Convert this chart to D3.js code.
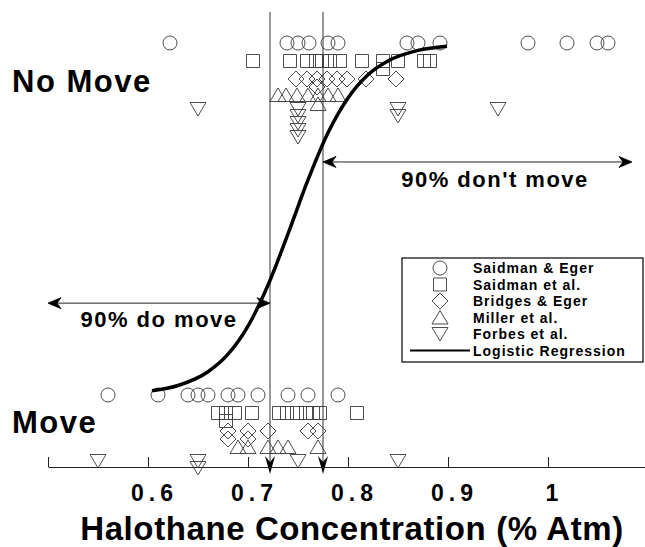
<!DOCTYPE html>
<html>
<head>
<meta charset="utf-8">
<script src="https://cdn.jsdelivr.net/npm/d3@7"></script>
<style>
  body { margin: 0; background: #fff; }
  svg { display: block; font-family: "Liberation Sans", Arial, Helvetica, sans-serif; }
</style>
</head>
<body>
<div id="chart"></div>
<script>
// halothane dose/response
var seriesNames = ["Saidman & Eger", "Saidman et al.", "Bridges & Eger", "Miller et al.", "Forbes et al."];

var saidmanEgerNoMove = [0.622, 0.739, 0.75, 0.761, 0.78, 0.79, 0.859, 0.87, 0.892, 0.98, 1.019, 1.049, 1.06];
var saidmanEgerMove   = [0.56, 0.61, 0.64, 0.65, 0.66, 0.68, 0.69, 0.71, 0.74, 0.76, 0.79];
var saidmanEtAlNoMove = [0.705, 0.742, 0.759, 0.768, 0.774, 0.782, 0.792, 0.814, 0.835, 0.835, 0.85, 0.876, 0.882];
var saidmanEtAlMove   = [0.67, 0.678, 0.678, 0.687, 0.704, 0.731, 0.739, 0.749, 0.758, 0.765, 0.772, 0.809];
var bridgesNoMove     = [0.748, 0.759, 0.769, 0.769, 0.779, 0.789, 0.799, 0.818, 0.848];
var bridgesMove       = [0.68, 0.68, 0.70, 0.70, 0.72, 0.76, 0.77];
var millerNoMove      = [0.73, 0.738, 0.749, 0.76, 0.77, 0.77, 0.78, 0.79];
var millerMove        = [0.69, 0.70, 0.72, 0.73, 0.74, 0.77];
var forbesNoMove      = [0.65, 0.75, 0.75, 0.75, 0.75, 0.75, 0.85, 0.85, 0.95];
var forbesMove        = [0.55, 0.65, 0.65, 0.75, 0.85];

// logistic regression curve
var curveConc = [0.604, 0.63, 0.66, 0.68, 0.70, 0.72, 0.74, 0.76, 0.78, 0.80, 0.82, 0.84, 0.87, 0.899];
var curveProb = [0.012, 0.027, 0.066, 0.116, 0.196, 0.312, 0.458, 0.611, 0.745, 0.844, 0.910, 0.949, 0.979, 0.991];

var thresholdConc = [0.722, 0.775]; // 10% / 90% lines
var tickValues = [0.5, 0.6, 0.7, 0.8, 0.9, 1.0];

var w = 645, h = 547;
var svg = d3.select("#chart").append("svg")
  .attr("width", w).attr("height", h);
svg.append("rect").attr("width", w).attr("height", h).attr("fill", "#fff");

var x = d3.scaleLinear().domain([0.5, 1.1]).range([48, 648]);
var y = d3.scaleLinear().domain([0, 1]).range([395, 43]);
var axisY = 467;

// symbol paths
function circle(r) { return "M" + (-r) + ",0A" + r + "," + r + " 0 1,0 " + r + ",0A" + r + "," + r + " 0 1,0 " + (-r) + ",0Z"; }
var shapes = [
  circle(7),
  "M-6.5,-6.5H6.5V6.5H-6.5Z",
  "M0,-8L8,0L0,8L-8,0Z",
  "M0,-7L8,6.5H-8Z",
  "M0,7L8,-6.5H-8Z"
];
var rowOffset = [0, 18, 36, 52, 66];
var stackStep = [8, 8, 8, 9, 7];

var noMove = [saidmanEgerNoMove, saidmanEtAlNoMove, bridgesNoMove, millerNoMove, forbesNoMove];
var move = [saidmanEgerMove, saidmanEtAlMove, bridgesMove, millerMove, forbesMove];

function plotRow(vals, si, p) {
  var seen = {};
  vals.forEach(function(v) {
    var k = v.toFixed(3);
    var n = seen[k] || 0;
    seen[k] = n + 1;
    svg.append("path")
      .attr("d", shapes[si])
      .attr("transform", "translate(" + x(v) + "," + (y(p) + rowOffset[si] + n * stackStep[si]) + ")")
      .attr("fill", "none")
      .attr("stroke", "#3a3a3a")
      .attr("stroke-width", 0.9);
  });
}
noMove.forEach(function(vals, i) { plotRow(vals, i, 1); });
move.forEach(function(vals, i) { plotRow(vals, i, 0); });

// vertical threshold lines with arrows down to the axis
thresholdConc.forEach(function(c) {
  var xx = x(c);
  svg.append("line").attr("x1", xx).attr("x2", xx).attr("y1", 12).attr("y2", axisY - 4)
    .attr("stroke", "#333").attr("stroke-width", 1);
  var tip = axisY + 7;
  svg.append("path")
    .attr("d", "M" + xx + "," + tip + "L" + (xx - 5) + "," + (tip - 18) + "L" + xx + "," + (tip - 12) + "L" + (xx + 5) + "," + (tip - 18) + "Z")
    .attr("fill", "#000");
});

// horizontal double arrows
function head(xt, yy, dir) {
  // dir -1 points left, +1 points right
  var b = xt - dir * 13;
  return "M" + xt + "," + yy + "L" + b + "," + (yy - 5.5) + "L" + (xt - dir * 9) + "," + yy + "L" + b + "," + (yy + 5.5) + "Z";
}
function dblArrow(x0, x1, yy) {
  svg.append("line").attr("x1", x0 + 4).attr("x2", x1 - 4).attr("y1", yy).attr("y2", yy)
    .attr("stroke", "#222").attr("stroke-width", 1);
  svg.append("path").attr("d", head(x0, yy, -1)).attr("fill", "#000")
    .attr("stroke", "#000").attr("stroke-width", 0.8).attr("stroke-linejoin", "miter");
  svg.append("path").attr("d", head(x1, yy, 1)).attr("fill", "#000")
    .attr("stroke", "#000").attr("stroke-width", 0.8).attr("stroke-linejoin", "miter");
}
var doY = y(0.261), dontY = y(0.662);
dblArrow(x(0.5), x(thresholdConc[0]), doY);
dblArrow(x(thresholdConc[1]), x(1.084), dontY);

svg.append("text").attr("x", 159).attr("y", doY + 24).attr("text-anchor", "middle")
  .attr("font-size", 22).attr("font-weight", "bold").attr("letter-spacing", 1.5)
  .text("90% do move");
svg.append("text").attr("x", 495).attr("y", dontY + 25).attr("text-anchor", "middle")
  .attr("font-size", 22).attr("font-weight", "bold").attr("letter-spacing", 1.5)
  .text("90% don't move");

// logistic curve
var line = d3.line().x(function(d) { return x(d[0]); }).y(function(d) { return y(d[1]); })
  .curve(d3.curveMonotoneX);
svg.append("path")
  .datum(curveConc.map(function(c, i) { return [c, curveProb[i]]; }))
  .attr("d", line)
  .attr("fill", "none").attr("stroke", "#000").attr("stroke-width", 3.5);

// response labels
svg.append("text").attr("x", 12).attr("y", 92)
  .attr("font-size", 31).attr("font-weight", "bold").attr("letter-spacing", 1.5)
  .text("No Move");
svg.append("text").attr("x", 12).attr("y", 433)
  .attr("font-size", 31).attr("font-weight", "bold").attr("letter-spacing", 1.5)
  .text("Move");

// x axis, ticks point up
var xAxis = d3.axisBottom(x)
  .tickValues(tickValues)
  .tickSize(-10)
  .tickSizeOuter(0)
  .tickPadding(18)
  .tickFormat(function(d) { return d === 0.5 ? "" : (d === 1 ? "1" : d.toFixed(1)); });
var gx = svg.append("g").attr("transform", "translate(0," + axisY + ")").call(xAxis);
gx.select(".domain").attr("stroke", "#222");
gx.selectAll(".tick line").attr("stroke", "#222");
gx.selectAll(".tick text")
  .attr("font-family", "Liberation Sans, Arial, sans-serif")
  .attr("font-size", 23).attr("font-weight", "bold").attr("letter-spacing", 5)
  .attr("dx", 6).attr("fill", "#000");

svg.append("text").attr("x", 352).attr("y", 540).attr("text-anchor", "middle")
  .attr("font-size", 33).attr("font-weight", "bold").attr("letter-spacing", 0.6)
  .text("Halothane Concentration (% Atm)");

// legend
var lg = svg.append("g");
lg.append("rect").attr("x", 402).attr("y", 258).attr("width", 241).attr("height", 104)
  .attr("fill", "#fff").attr("stroke", "#000").attr("stroke-width", 1.2);
seriesNames.forEach(function(name, i) {
  var yy = 268 + i * 16.5;
  lg.append("path").attr("d", shapes[i]).attr("transform", "translate(440," + yy + ")")
    .attr("fill", "none").attr("stroke", "#3a3a3a").attr("stroke-width", 0.9);
  lg.append("text").attr("x", 473).attr("y", yy + 5)
    .attr("font-size", 14).attr("font-weight", "bold").attr("letter-spacing", 1)
    .text(name);
});
var ly = 268 + 5 * 16.5;
lg.append("line").attr("x1", 410).attr("x2", 470).attr("y1", ly).attr("y2", ly)
  .attr("stroke", "#000").attr("stroke-width", 2);
lg.append("text").attr("x", 473).attr("y", ly + 5)
  .attr("font-size", 14).attr("font-weight", "bold").attr("letter-spacing", 1)
  .text("Logistic Regression");
</script>
</body>
</html>
